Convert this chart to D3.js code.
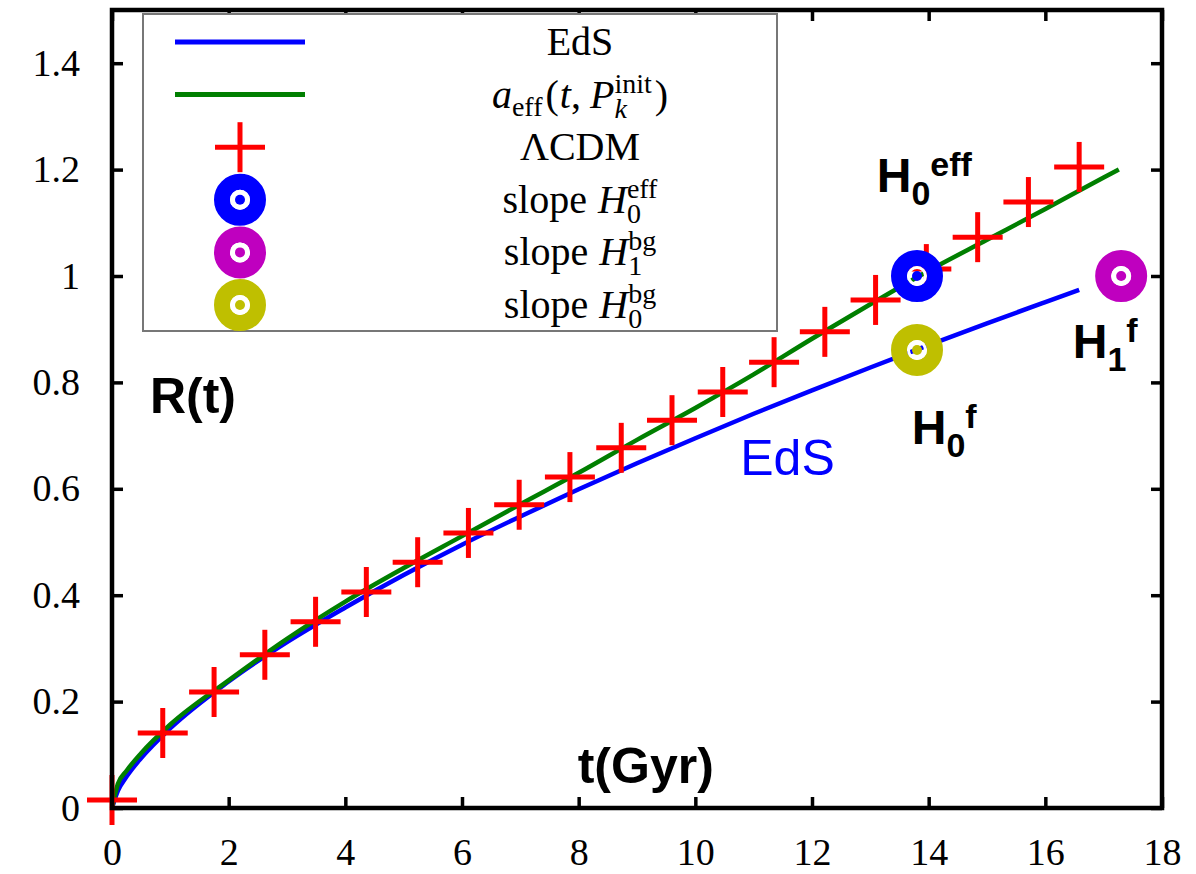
<!DOCTYPE html>
<html>
<head>
<meta charset="utf-8">
<script src="https://cdn.jsdelivr.net/npm/d3@7"></script>
<style>
  body { margin: 0; background: #fff; }
  svg text { font-family: "Liberation Serif", "Times New Roman", serif; }
  .anno { font-family: "Liberation Sans", Arial, sans-serif; font-weight: bold; }
</style>
</head>
<body>
<script>
// ΛCDM points (red crosses)
const lcdmT = [0, 0.87, 1.75, 2.62, 3.49, 4.36, 5.24, 6.11, 6.98, 7.85, 8.73, 9.60, 10.47, 11.35, 12.22, 13.09, 13.96, 14.84, 15.71, 16.58];
const lcdmR = [0.015, 0.141, 0.218, 0.288, 0.350, 0.406, 0.462, 0.517, 0.570, 0.622, 0.677, 0.729, 0.782, 0.838, 0.895, 0.955, 1.013, 1.073, 1.139, 1.205];

// EdS curve (blue)
const edsT = [0, 0.1, 0.25, 0.5, 1, 2, 3, 4, 5, 6, 7, 8, 9, 10, 11, 12, 13, 14, 15, 16, 16.58];
const edsR = [0, 0.032, 0.059, 0.094, 0.150, 0.238, 0.312, 0.377, 0.438, 0.495, 0.548, 0.599, 0.648, 0.695, 0.741, 0.785, 0.828, 0.870, 0.911, 0.951, 0.974];

// a_eff curve (green)
const effT = [0, 0.1, 0.25, 0.5, 1, 2, 3, 4, 5, 6, 7, 8, 9, 10, 11, 12, 13, 14, 15, 16, 17, 17.26];
const effR = [0, 0.045, 0.070, 0.103, 0.157, 0.240, 0.318, 0.388, 0.451, 0.511, 0.571, 0.630, 0.692, 0.752, 0.815, 0.882, 0.947, 1.010, 1.068, 1.126, 1.185, 1.200];

// slope markers: H0eff, H1bg, H0bg
const slopeT = [13.8, 17.3, 13.8];
const slopeR = [1.0, 1.0, 0.861];

const xTicks = [0, 2, 4, 6, 8, 10, 12, 14, 16, 18];
const yTicks = [0, 0.2, 0.4, 0.6, 0.8, 1, 1.2, 1.4];

const colors = {eds: "#0000ff", eff: "#007f00", lcdm: "#ff0000", slope: ["#0000ff", "#bf00bf", "#bfbf00"]};

const width = 1196, height = 874;
const frame = {left: 112, right: 1162, top: 10, bottom: 808};

const svg = d3.select("body").append("svg")
  .attr("width", width)
  .attr("height", height);

const x = d3.scaleLinear().domain([0, 18]).range([frame.left, frame.right]);
const y = d3.scaleLinear().domain([0, 1.5]).range([frame.bottom, frame.top]);

const fmt = (d) => d3.format("")(+d.toFixed(1));

// axes, ticks pointing inward
const axes = [
  {ax: d3.axisBottom(x).tickValues(xTicks).tickFormat(fmt).tickPadding(30), t: `translate(0,${frame.bottom})`},
  {ax: d3.axisTop(x).tickValues(xTicks).tickFormat(""), t: `translate(0,${frame.top})`},
  {ax: d3.axisLeft(y).tickValues(yTicks).tickFormat(fmt).tickPadding(32), t: `translate(${frame.left},0)`},
  {ax: d3.axisRight(y).tickValues(yTicks).tickFormat(""), t: `translate(${frame.right},0)`}
];
axes.forEach((a) => {
  const g = svg.append("g")
    .attr("transform", a.t)
    .call(a.ax.tickSizeInner(-11).tickSizeOuter(0));
  g.select(".domain").remove();
  g.selectAll(".tick line").attr("stroke", "#000").attr("stroke-width", 3.5);
  g.selectAll(".tick text").attr("fill", "#000").style("font-size", "38px")
    .style("font-family", '"Liberation Serif", serif');
});

// curves
const line = d3.line()
  .x((d) => x(d[0]))
  .y((d) => y(d[1]))
  .curve(d3.curveMonotoneX);

svg.append("path")
  .datum(d3.zip(edsT, edsR))
  .attr("fill", "none")
  .attr("stroke", colors.eds)
  .attr("stroke-width", 4.5)
  .attr("d", line);

svg.append("path")
  .datum(d3.zip(effT, effR))
  .attr("fill", "none")
  .attr("stroke", colors.eff)
  .attr("stroke-width", 4.5)
  .attr("d", line);

// crosses
function drawCross(g, size) {
  g.append("line").attr("x1", -size).attr("x2", size).attr("y1", 0).attr("y2", 0);
  g.append("line").attr("x1", 0).attr("x2", 0).attr("y1", -size).attr("y2", size);
  g.attr("stroke", colors.lcdm).attr("stroke-width", 5);
}

svg.append("g").selectAll("g")
  .data(d3.zip(lcdmT, lcdmR))
  .join("g")
  .attr("transform", (d) => `translate(${x(d[0])},${y(d[1])})`)
  .each(function () { drawCross(d3.select(this), 25); });

// ring markers
function drawRing(g, c) {
  g.append("circle").attr("r", 18).attr("fill", "none").attr("stroke", c).attr("stroke-width", 16);
  g.append("circle").attr("r", 8.5).attr("fill", "none").attr("stroke", "#fff").attr("stroke-width", 3);
  g.append("circle").attr("r", 5).attr("fill", c);
}

svg.append("g").selectAll("g")
  .data(d3.zip(slopeT, slopeR, colors.slope))
  .join("g")
  .attr("transform", (d) => `translate(${x(d[0])},${y(d[1])})`)
  .each(function (d) { drawRing(d3.select(this), d[2]); });

// frame
svg.append("rect")
  .attr("x", frame.left).attr("y", frame.top)
  .attr("width", frame.right - frame.left)
  .attr("height", frame.bottom - frame.top)
  .attr("fill", "none")
  .attr("stroke", "#000")
  .attr("stroke-width", 4.5);

// legend
const legend = svg.append("g");
legend.append("rect")
  .attr("x", 143).attr("y", 14)
  .attr("width", 634).attr("height", 317)
  .attr("fill", "#fff")
  .attr("stroke", "#777")
  .attr("stroke-width", 2);

const rowY = (i) => 42 + i * 52.6;
const symX = 240;

// text layout for math labels: s text, i italic, z scale, b baseline shift,
// k stacked over previous, g gap after
function mathLabel(g, tokens, cx, base, size) {
  const lg = g.append("g");
  let cursor = 0, prevStart = 0, prevEnd = 0;
  tokens.forEach((tk) => {
    const fs = size * (tk.z || 1);
    const t = lg.append("text")
      .attr("y", base + (tk.b || 0))
      .style("font-size", fs + "px")
      .style("font-style", tk.i ? "italic" : "normal")
      .attr("fill", "#000")
      .text(tk.s);
    const w = t.node().getComputedTextLength();
    let start = tk.k ? prevStart : cursor;
    t.attr("x", start);
    if (tk.k) {
      cursor = Math.max(prevEnd, start + w);
    } else {
      prevStart = start;
      prevEnd = start + w;
      cursor = start + w;
    }
    cursor += (tk.g || 0);
  });
  lg.attr("transform", `translate(${cx - cursor / 2},0)`);
}

const legendLabels = [
  [{s: "EdS"}],
  [{s: "a", i: 1}, {s: "eff", z: 0.7, b: 8, g: 3}, {s: "(", g: 1}, {s: "t", i: 1}, {s: ",", g: 9}, {s: "P", i: 1},
   {s: "init", z: 0.7, b: -15}, {s: "k", i: 1, z: 0.7, b: 10, k: 1, g: 3}, {s: ")"}],
  [{s: "\u039BCDM"}],
  [{s: "slope", g: 11}, {s: "H", i: 1}, {s: "eff", z: 0.7, b: -15}, {s: "0", z: 0.7, b: 10, k: 1}],
  [{s: "slope", g: 11}, {s: "H", i: 1}, {s: "bg", z: 0.7, b: -15}, {s: "1", z: 0.7, b: 10, k: 1}],
  [{s: "slope", g: 11}, {s: "H", i: 1}, {s: "bg", z: 0.7, b: -15}, {s: "0", z: 0.7, b: 10, k: 1}]
];
legendLabels.forEach((tokens, i) => mathLabel(legend, tokens, 580, rowY(i) + 13, 40));

legend.append("line")
  .attr("x1", 175).attr("x2", 305).attr("y1", rowY(0)).attr("y2", rowY(0))
  .attr("stroke", colors.eds).attr("stroke-width", 5);
legend.append("line")
  .attr("x1", 175).attr("x2", 305).attr("y1", rowY(1)).attr("y2", rowY(1))
  .attr("stroke", colors.eff).attr("stroke-width", 5);
drawCross(legend.append("g").attr("transform", `translate(${symX},${rowY(2)})`), 25);
colors.slope.forEach((c, i) => {
  drawRing(legend.append("g").attr("transform", `translate(${symX},${rowY(3 + i)})`), c);
});

// annotations
svg.append("text").attr("class", "anno")
  .attr("x", x(0.65)).attr("y", y(0.742))
  .style("font-size", "50px")
  .text("R(t)");

svg.append("text").attr("class", "anno")
  .attr("x", x(9.15)).attr("y", y(0.047))
  .attr("text-anchor", "middle")
  .style("font-size", "50px")
  .text("t(Gyr)");

svg.append("text")
  .attr("x", x(10.77)).attr("y", y(0.626))
  .style("font-family", '"Liberation Sans", Arial, sans-serif')
  .style("font-size", "50px")
  .attr("fill", colors.eds)
  .text("EdS");

function hLabel(tx, ty, sub, sup) {
  const t = svg.append("text").attr("class", "anno")
    .attr("x", x(tx)).attr("y", y(ty))
    .style("font-size", "48px");
  t.append("tspan").text("H");
  t.append("tspan").attr("dy", 13).style("font-size", "34px").text(sub);
  t.append("tspan").attr("dy", -29).style("font-size", "34px").text(sup);
}
hLabel(13.11, 1.158, "0", "eff");
hLabel(16.47, 0.846, "1", "f");
hLabel(13.71, 0.684, "0", "f");
</script>
</body>
</html>
